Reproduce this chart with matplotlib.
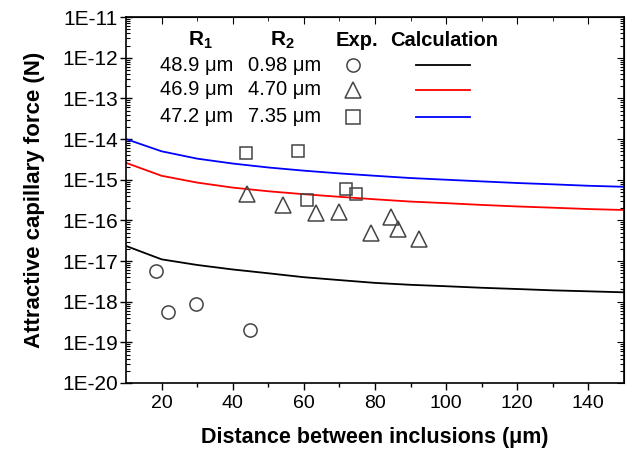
import matplotlib
matplotlib.use("Agg")
import matplotlib.pyplot as plt
from matplotlib.ticker import LogLocator

plt.rcParams['font.family'] = ['Liberation Sans', 'DejaVu Sans']
plt.rcParams['mathtext.fontset'] = 'custom'
plt.rcParams['mathtext.rm'] = 'Liberation Sans'
plt.rcParams['mathtext.bf'] = 'Liberation Sans:bold'

# experimental points
circ_x = [18.5, 21.8, 29.8, 45.0]
circ_y = [5.7e-18, 5.5e-19, 8.7e-19, 2.0e-19]
tri_x = [44.0, 54.2, 63.4, 70.0, 79.0, 84.5, 86.4, 92.3]
tri_y = [4.4e-16, 2.4e-16, 1.55e-16, 1.6e-16, 4.8e-17, 1.23e-16, 6.0e-17, 3.5e-17]
sq_x = [43.7, 58.4, 61.0, 71.9, 74.8]
sq_y = [4.6e-15, 5.0e-15, 3.2e-16, 6.0e-16, 4.4e-16]

# calculated curves
calc_x = [10, 20, 30, 40, 50, 60, 70, 80, 90, 100, 110, 120, 130, 140, 150]
calc_black = [2.35e-17, 1.1e-17, 8.0e-18, 6.2e-18, 5.0e-18, 4.0e-18, 3.4e-18, 2.9e-18,
              2.6e-18, 2.4e-18, 2.2e-18, 2.05e-18, 1.9e-18, 1.8e-18, 1.7e-18]
calc_red = [2.6e-15, 1.25e-15, 8.5e-16, 6.4e-16, 5.2e-16, 4.4e-16, 3.8e-16, 3.3e-16,
            2.9e-16, 2.65e-16, 2.4e-16, 2.2e-16, 2.05e-16, 1.9e-16, 1.8e-16]
calc_blue = [1.0e-14, 5.0e-15, 3.3e-15, 2.5e-15, 2.0e-15, 1.67e-15, 1.43e-15, 1.25e-15,
             1.1e-15, 1.0e-15, 9.1e-16, 8.3e-16, 7.7e-16, 7.1e-16, 6.7e-16]

r1_labels = ['48.9 μm', '46.9 μm', '47.2 μm']
r2_labels = ['0.98 μm', '4.70 μm', '7.35 μm']
markers = ['o', '^', 's']
colors = ['black', 'red', 'blue']

fig = plt.figure(figsize=(6.27, 4.62), dpi=100)
ax = fig.add_axes([0.201, 0.171, 0.794, 0.792])

for yv, c in zip([calc_black, calc_red, calc_blue], colors):
    ax.plot(calc_x, yv, color=c, lw=1.3)

mk = dict(ls='none', mfc='none', mec='#444444', mew=1.1)
ax.plot(circ_x, circ_y, marker='o', ms=9.5, **mk)
ax.plot(tri_x, tri_y, marker='^', ms=11, **mk)
ax.plot(sq_x, sq_y, marker='s', ms=9, **mk)

ax.set_yscale('log')
ax.set_xlim(10, 150)
ax.set_ylim(1e-20, 1e-11)
ax.set_xticks([20, 40, 60, 80, 100, 120, 140])
ax.set_xticks([30, 50, 70, 90, 110, 130], minor=True)
ax.set_yticks([10.0 ** e for e in range(-20, -10)])
ax.set_yticklabels(['1E%d' % e for e in range(-20, -10)])
ax.yaxis.set_minor_locator(LogLocator(base=10, subs=range(2, 10), numticks=20))

ax.tick_params(axis='x', which='major', direction='out', length=5, width=1, labelsize=14)
ax.tick_params(axis='x', which='minor', direction='out', length=3, width=1)
ax.tick_params(axis='y', which='major', direction='inout', length=8, width=1, labelsize=15, pad=2)
ax.tick_params(axis='y', which='minor', direction='in', length=3, width=0.8)

secx = ax.secondary_xaxis('top')
secx.set_xticks([20, 40, 60, 80, 100, 120, 140])
secx.set_xticks([30, 50, 70, 90, 110, 130], minor=True)
secx.tick_params(which='major', direction='in', length=5, labeltop=False)
secx.tick_params(which='minor', direction='in', length=3)
secy = ax.secondary_yaxis('right')
secy.set_yticks([10.0 ** e for e in range(-20, -10)])
secy.yaxis.set_minor_locator(LogLocator(base=10, subs=range(2, 10), numticks=20))
secy.tick_params(which='major', direction='in', length=5, labelright=False)
secy.tick_params(which='minor', direction='in', length=3, width=0.8)

for s in list(ax.spines.values()):
    s.set_linewidth(1.2)

ax.set_xlabel('Distance between inclusions (μm)', fontsize=15.5, fontweight='bold', labelpad=11)
ax.set_ylabel('Attractive capillary force (N)', fontsize=16, fontweight='bold', labelpad=12)

# legend table
tr = ax.transAxes
ax.text(0.149, 0.937, r'$\mathbf{R_1}$', transform=tr, ha='center', va='center', fontsize=15)
ax.text(0.315, 0.937, r'$\mathbf{R_2}$', transform=tr, ha='center', va='center', fontsize=15)
ax.text(0.464, 0.937, 'Exp.', transform=tr, ha='center', va='center', fontsize=14.5, fontweight='bold')
ax.text(0.639, 0.937, 'Calculation', transform=tr, ha='center', va='center', fontsize=14.5, fontweight='bold')
rows_y = [0.869, 0.801, 0.727]
for yy, a, b, m, c in zip(rows_y, r1_labels, r2_labels, markers, colors):
    ax.text(0.141, yy, a, transform=tr, ha='center', va='center', fontsize=14.5)
    ax.text(0.319, yy, b, transform=tr, ha='center', va='center', fontsize=14.5)
    ax.plot([0.456], [yy], transform=tr, marker=m, ms=9.5 if m != '^' else 11, **mk)
    ax.plot([0.582, 0.691], [yy, yy], transform=tr, color=c, lw=1.3)

fig.savefig('out.png', dpi=100)
